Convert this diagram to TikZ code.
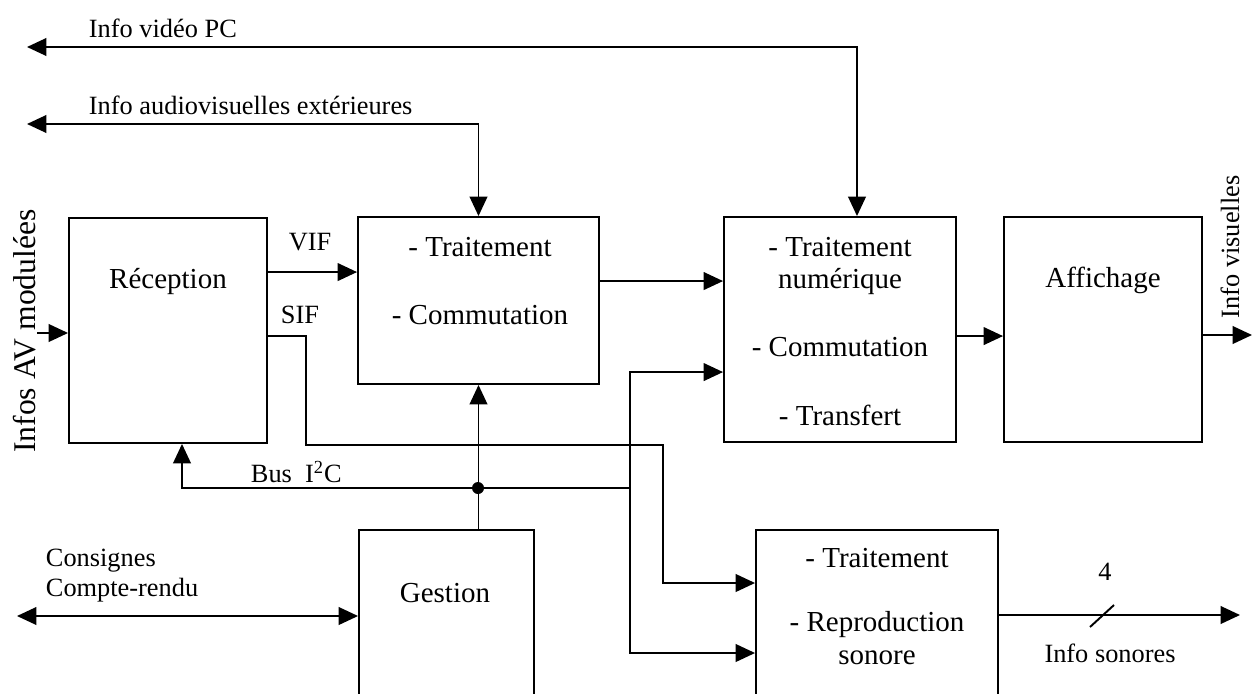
\documentclass[tikz,border=0pt]{standalone}
\usepackage{fontspec}
\setmainfont{Liberation Serif}
\usetikzlibrary{arrows.meta,calc}
\begin{document}
\begin{tikzpicture}[x=0.02cm,y=-0.02cm,
  line width=1.1pt,
  >={Triangle[length=11pt,width=10pt]},
  box/.style={draw,rectangle,inner sep=0pt},
  boxtxt/.style={font=\fontsize{16.5}{19}\selectfont,inner sep=0pt},
  lbl/.style={font=\fontsize{15}{17}\selectfont,inner sep=0pt},
  jdot/.style={circle,fill,inner sep=0pt,minimum size=0.24cm}]
\useasboundingbox (0,0) rectangle (1256,693);
\clip (0,0) rectangle (1256,693);
% boxes
\node[box,minimum width=3.96cm,minimum height=4.5cm] (rec) at (168,330.5) {};
\node[box,minimum width=4.82cm,minimum height=3.34cm] (trt) at (478.5,300.5) {};
\node[box,minimum width=4.64cm,minimum height=4.5cm] (num) at (840,329.5) {};
\node[box,minimum width=3.96cm,minimum height=4.5cm] (aff) at (1103,329.5) {};
\node[box,minimum width=3.5cm,minimum height=3.8cm] (ges) at (446.5,625) {};
\node[box,minimum width=4.84cm,minimum height=3.8cm] (son) at (877,625) {};
% box texts
\node[boxtxt] (trec) at (168,282) {Réception};
\node[boxtxt] (ttrt1) at (480,247) {- Traitement};
\node[boxtxt] (ttrt2) at (480,315) {- Commutation};
\node[boxtxt] (tnum1) at (840,247) {- Traitement};
\node[boxtxt] (tnum2) at (840,282) {numérique};
\node[boxtxt] (tnum3) at (840,347) {- Commutation};
\node[boxtxt] (tnum4) at (840,415) {- Transfert};
\node[boxtxt] (taff) at (1103,280) {Affichage};
\node[boxtxt] (tges) at (445,593) {Gestion};
\node[boxtxt] (tson1) at (877,558) {- Traitement};
\node[boxtxt] (tson2) at (877,625) {- Reproduction};
\node[boxtxt] (tson3) at (877,658) {sonore};
% labels
\node[lbl,anchor=west] (lvpc) at (88,28) {Info vidéo PC};
\node[lbl,anchor=west] (lavx) at (88,105) {Info audiovisuelles extérieures};
\node[lbl] (lvif) at (310,242) {VIF};
\node[lbl] (lsif) at (300,315) {SIF};
\node[lbl,anchor=west] (lbus) at (250,472) {Bus\ \ I\textsuperscript{2}C};
\node[lbl,anchor=west,align=left] (lcons) at (45,576) {Consignes\\Compte-rendu};
\node[lbl,font=\fontsize{18}{20}\selectfont,rotate=90] (linp) at (25,331) {Infos AV modulées};
\node[lbl,rotate=90] (lvis) at (1230,247) {Info visuelles};
\node[lbl] (l4) at (1105,572) {4};
\node[lbl] (lson) at (1110,653) {Info sonores};
% free ends
\coordinate (vpc) at (27,47);
\coordinate (avx) at (27,124);
\coordinate (inp) at (37,333);
\coordinate (outv) at (1252,335);
\coordinate (outs) at (1240,615);
\coordinate (cons) at (17,616);
% top connectors
\draw[<->] (vpc) -| ([xshift=0.34cm]num.north);
\draw[<->] (avx) -| (trt.north);
% input
\draw[->] (inp) -- (inp -| rec.west);
% VIF
\coordinate (vif) at ($(rec.north east)+(0,55)$);
\draw[->] (vif) -- (vif -| trt.west);
% SIF
\coordinate (sif) at ($(rec.north east)+(0,119)$);
\coordinate (s1) at (306,445);
\coordinate (s2) at (663,583);
\draw[->] (sif) -| (s1) -| (s2) -- (s2 -| son.west);
% trt -> num
\coordinate (a1) at ($(trt.north east)+(0,65)$);
\draw[->] (a1) -- (a1 -| num.west);
% num -> aff
\coordinate (a2) at ($(num.north east)+(0,120)$);
\draw[->] (a2) -- (a2 -| aff.west);
% aff out
\draw[->] (outv -| aff.east) -- (outv);
% gestion up
\draw[->] (trt.south |- ges.north) -- (trt.south);
% bus
\coordinate (j) at (478,488);
\coordinate (br) at (630,488);
\draw[->] (br) -- (182,488) -- (182,0 |- rec.south);
\coordinate (n3) at ($(num.north west)+(0,156)$);
\coordinate (bb) at (630,653);
\draw[<->] (n3) -| (bb) -- (bb -| son.west);
\node[jdot] (jd) at (j) {};
% sound out
\draw[->] (outs -| son.east) -- (outs);
\draw (1090,627) -- (1114,605);
% consignes
\draw[<->] (cons) -- (cons -| ges.west);
\end{tikzpicture}
\end{document}
